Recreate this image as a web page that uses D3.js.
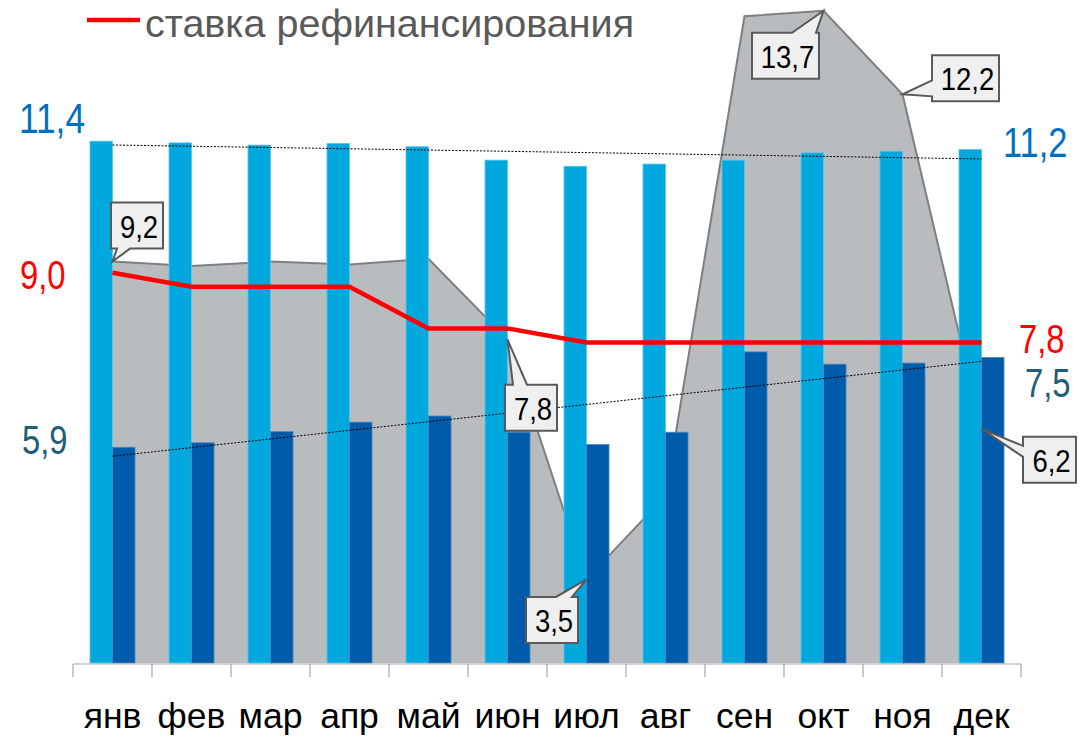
<!DOCTYPE html>
<html>
<head>
<meta charset="utf-8">
<title>ставка рефинансирования</title>
<style>
	body { margin: 0; background: #fff; }
	svg { display: block; }
	.month { font-family: 'Liberation Sans', Arial, sans-serif; font-size: 35.5px; fill: #000; }
	.num { font-family: 'Liberation Sans', Arial, sans-serif; }
</style>
</head>
<body>
<svg width="1092" height="738"></svg>
<script src="https://d3js.org/d3.v7.min.js"></script>
<script>
	// months
	const months = ['янв','фев','мар','апр','май','июн','июл','авг','сен','окт','ноя','дек']

	// light blue bars
	const lightVals = [11.36, 11.33, 11.29, 11.32, 11.26, 11.02, 10.91, 10.95, 11.02, 11.15, 11.18, 11.21]
	// dark blue bars
	const darkVals = [5.87, 5.95, 6.15, 6.32, 6.43, 6.14, 5.92, 6.14, 7.58, 7.36, 7.38, 7.48]
	// grey area
	const greyVals = [9.2, 9.12, 9.2, 9.15, 9.25, 7.8, 3.5, 5.0, 13.6, 13.7, 12.2, 6.2]
	// red line - refinancing rate
	const rateVals = [9.0, 8.75, 8.75, 8.75, 8.0, 8.0, 7.75, 7.75, 7.75, 7.75, 7.75, 7.75]

	// which grey points get a callout
	const calloutMonths = ['янв','июн','июл','окт','ноя','дек']

	const legendText = 'ставка рефинансирования'

	const fmt = v => d3.format('.1f')(v).replace('.', ',')

	let svg = d3.select('svg')

	let x = d3.scaleBand()
		.domain(months)
		.range([73, 1021])
	let bw = x.bandwidth()
	let cx = m => x(m) + bw / 2

	let y = d3.scaleLinear()
		.domain([2, 14])
		.range([663, -6])

	let base = y(2)

	// grey area, behind bars
	let greyData = months.map((m, i) => ({m: m, v: greyVals[i]}))

	svg.append('path')
		.datum(greyData)
		.attr('d', d3.area().x(d => cx(d.m)).y0(base).y1(d => y(d.v)))
		.style('fill', '#b9bcbf')

	svg.append('path')
		.datum(greyData)
		.attr('d', d3.line().x(d => cx(d.m)).y(d => y(d.v)))
		.style('fill', 'none')
		.style('stroke', '#7f7f7f')
		.style('stroke-width', 2)

	// bars
	svg.append('g')
		.selectAll('rect')
		.data(lightVals)
		.join('rect')
		.attr('x', (d, i) => x(months[i]) + bw * 0.215)
		.attr('width', bw * 0.285)
		.attr('y', d => y(d))
		.attr('height', d => base - y(d))
		.style('fill', '#00a8de')
		.style('stroke', '#5cc6ec')
		.style('stroke-width', 0.8)

	svg.append('g')
		.selectAll('rect')
		.data(darkVals)
		.join('rect')
		.attr('x', (d, i) => x(months[i]) + bw * 0.5)
		.attr('width', bw * 0.285)
		.attr('y', d => y(d))
		.attr('height', d => base - y(d))
		.style('fill', '#005baa')
		.style('stroke', '#4f86bd')
		.style('stroke-width', 0.8)

	// axis line + ticks at category edges
	let edges = months.map(m => x(m)).concat([x.range()[1]])
	svg.append('line')
		.attr('x1', x.range()[0]).attr('x2', x.range()[1])
		.attr('y1', base + 1).attr('y2', base + 1)
		.style('stroke', '#a6a6a6')
		.style('stroke-width', 1.2)
	svg.append('g')
		.selectAll('line')
		.data(edges)
		.join('line')
		.attr('x1', d => d).attr('x2', d => d)
		.attr('y1', base + 1).attr('y2', base + 14)
		.style('stroke', '#a6a6a6')
		.style('stroke-width', 1.2)

	svg.append('g')
		.selectAll('text')
		.data(months)
		.join('text')
		.attr('class', 'month')
		.attr('x', d => cx(d))
		.attr('y', 728)
		.attr('text-anchor', 'middle')
		.text(d => d)

	// linear trend lines (least squares over the months)
	function trend(vals) {
		let n = vals.length
		let mi = (n - 1) / 2
		let mv = d3.mean(vals)
		let num = d3.sum(vals, (v, i) => (i - mi) * (v - mv))
		let den = d3.sum(vals, (v, i) => (i - mi) * (i - mi))
		let k = num / den
		return [mv - k * mi, mv + k * mi]
	}

	;[lightVals, darkVals].forEach(vals => {
		let t = trend(vals)
		svg.append('line')
			.attr('x1', cx(months[0])).attr('x2', cx(months[11]))
			.attr('y1', y(t[0])).attr('y2', y(t[1]))
			.style('stroke', '#000')
			.style('stroke-width', 1)
			.style('stroke-dasharray', '2,1.5')
	})

	// refinancing rate
	svg.append('path')
		.datum(rateVals)
		.attr('d', d3.line().x((d, i) => cx(months[i])).y(d => y(d)))
		.style('fill', 'none')
		.style('stroke', '#ff0000')
		.style('stroke-width', 4.5)

	// callouts on the grey series
	// layout: box offset from the point, box size, side of tail and its span along that side
	const calloutLayout = {
		'янв': {dx: -1.5, dy: -59, w: 52, h: 46, side: 'bottom', t: [6, 19]},
		'июн': {dx: -2.5, dy: 45, w: 52, h: 46, side: 'top', t: [8, 22]},
		'июл': {dx: -60.5, dy: 17.5, w: 52, h: 46, side: 'top', t: [30, 46]},
		'окт': {dx: -71.5, dy: 22, w: 67, h: 46, side: 'top', t: [40, 64]},
		'ноя': {dx: 29.5, dy: -39, w: 67, h: 46, side: 'left', t: [25, 41]},
		'дек': {dx: 41.5, dy: 8, w: 53, h: 46, side: 'left', t: [9, 20]}
	}

	function calloutPath(px, py, L) {
		let x0 = px + L.dx, y0 = py + L.dy, x1 = x0 + L.w, y1 = y0 + L.h
		let p = d3.path()
		p.moveTo(x0, y0)
		if (L.side == 'top') {
			p.lineTo(x0 + L.t[0], y0); p.lineTo(px, py); p.lineTo(x0 + L.t[1], y0)
		}
		p.lineTo(x1, y0)
		p.lineTo(x1, y1)
		if (L.side == 'bottom') {
			p.lineTo(x0 + L.t[1], y1); p.lineTo(px, py); p.lineTo(x0 + L.t[0], y1)
		}
		p.lineTo(x0, y1)
		if (L.side == 'left') {
			p.lineTo(x0, y0 + L.t[1]); p.lineTo(px, py); p.lineTo(x0, y0 + L.t[0])
		}
		p.closePath()
		return p.toString()
	}

	let callData = greyData.filter(d => calloutMonths.includes(d.m))

	let callouts = svg.append('g')
		.selectAll('g')
		.data(callData)
		.join('g')

	callouts.append('path')
		.attr('d', d => calloutPath(cx(d.m), y(d.v), calloutLayout[d.m]))
		.style('fill', '#efefef')
		.style('stroke', '#595959')
		.style('stroke-width', 2)
		.style('stroke-linejoin', 'miter')

	// the numbers in the picture are set in a narrow face, squeeze them
	callouts.append('text')
		.attr('class', 'num')
		.attr('transform', d => {
			let L = calloutLayout[d.m]
			let tx = cx(d.m) + L.dx + L.w / 2 + 2
			let ty = y(d.v) + L.dy + 35
			return `translate(${tx},${ty}) scale(0.86,1)`
		})
		.attr('text-anchor', 'middle')
		.style('font-size', '32px')
		.style('fill', '#000')
		.text(d => fmt(d.v))

	// end labels
	let last = months.length - 1
	const endLabels = [
		{v: lightVals[0], x: 19, y: 133, size: 43, color: '#0070c0'},
		{v: rateVals[0], x: 20, y: 289, size: 40, color: '#ff0000'},
		{v: darkVals[0], x: 22, y: 454, size: 40, color: '#1f5d79'},
		{v: lightVals[last], x: 1003, y: 157, size: 42, color: '#0070c0'},
		{v: rateVals[last], x: 1019, y: 353, size: 40, color: '#ff0000'},
		{v: darkVals[last], x: 1025, y: 397, size: 40, color: '#1f5d79'}
	]

	svg.append('g')
		.selectAll('text')
		.data(endLabels)
		.join('text')
		.attr('class', 'num')
		.attr('transform', d => `translate(${d.x},${d.y}) scale(0.82,1)`)
		.style('font-size', d => d.size + 'px')
		.style('fill', d => d.color)
		.text(d => fmt(d.v))

	// legend
	let legend = svg.append('g')
	legend.append('line')
		.attr('x1', 87).attr('x2', 140)
		.attr('y1', 20).attr('y2', 20)
		.style('stroke', '#ff0000')
		.style('stroke-width', 4.5)
	legend.append('text')
		.attr('x', 145)
		.attr('y', 37)
		.style('font-family', "'Liberation Sans', Arial, sans-serif")
		.style('font-size', '39.5px')
		.style('fill', '#595959')
		.text(legendText)
</script>
</body>
</html>
